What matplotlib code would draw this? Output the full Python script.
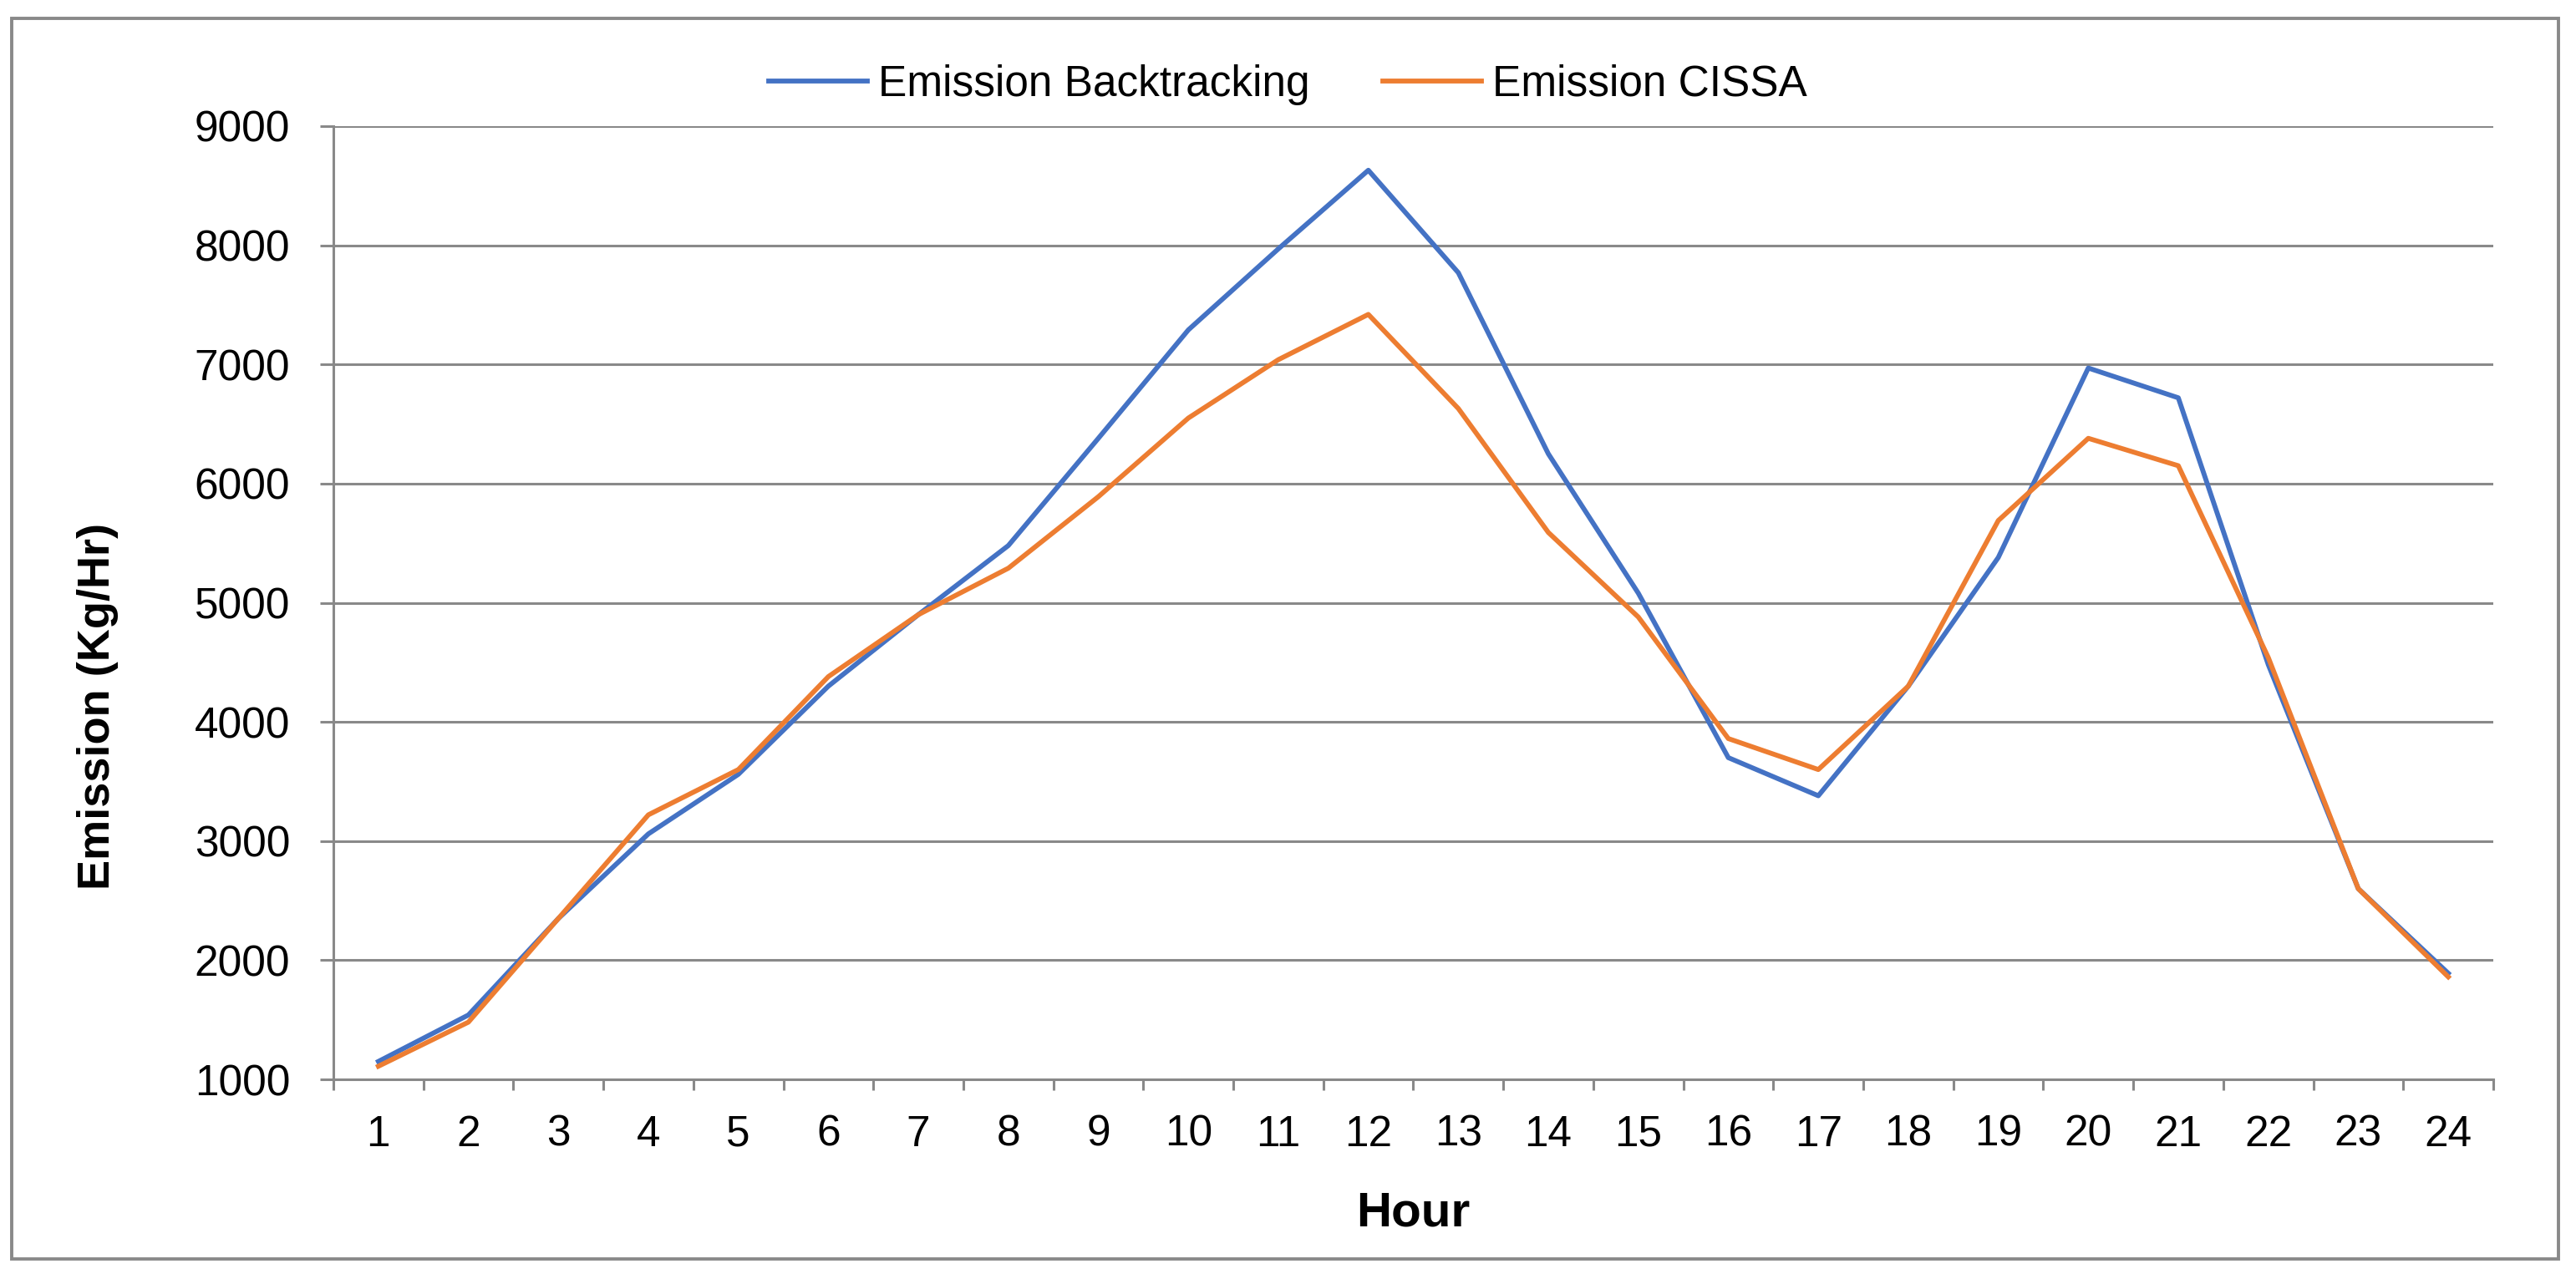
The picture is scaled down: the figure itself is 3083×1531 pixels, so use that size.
import matplotlib
matplotlib.use("Agg")
import matplotlib.pyplot as plt
from matplotlib.patches import Rectangle

hours = list(range(1, 25))
hour_labels = [str(h) for h in hours]
backtracking = [1150, 1540, 2350, 3060, 3560, 4300, 4900, 5480, 6380, 7290, 7970, 8630,
                7770, 6250, 5080, 3700, 3380, 4300, 5380, 6970, 6720, 4480, 2600, 1890]
cissa = [1110, 1480, 2350, 3220, 3600, 4380, 4900, 5290, 5890, 6550, 7040, 7420,
         6630, 5590, 4880, 3860, 3600, 4300, 5690, 6380, 6150, 4540, 2600, 1860]
yticks = [1000, 2000, 3000, 4000, 5000, 6000, 7000, 8000, 9000]
series_names = ["Emission Backtracking", "Emission CISSA"]
series_colors = ["#4472C4", "#ED7D31"]

plt.rcParams['font.family'] = ['Liberation Sans', 'DejaVu Sans']

W, H = 3083, 1531
fig = plt.figure(figsize=(W / 200, H / 200), dpi=200)
grey = "#898989"

L, R, T, B = 399, 2984, 151, 1292
ax = fig.add_axes([L / W, 1 - B / H, (R - L) / W, (B - T) / H])

ax.plot(hours, backtracking, color=series_colors[0], lw=2.1, label=series_names[0],
        solid_joinstyle='round', zorder=3)
ax.plot(hours, cissa, color=series_colors[1], lw=2.1, label=series_names[1],
        solid_joinstyle='round', zorder=4)

ax.set_xlim(0.5, 24.5)
ax.set_ylim(1000, 9000)
ax.set_yticks(yticks)
ax.set_yticklabels([str(v) for v in yticks])
ax.yaxis.grid(True, color=grey, lw=1.1)
ax.set_axisbelow(True)

# x ticks at category boundaries, labels centered
ax.set_xticks([h - 0.5 for h in hours] + [24.5])
ax.set_xticklabels([])
ax.set_xticks(hours, minor=True)
ax.set_xticklabels(hour_labels, minor=True)
ax.tick_params(axis='x', which='major', length=4.7, width=1.1, color=grey, direction='out')
ax.tick_params(axis='x', which='minor', length=0, pad=15, labelsize=18.5)
ax.tick_params(axis='y', length=5.7, width=1.1, color=grey, direction='out', pad=13,
               labelsize=18.5)

for s in ['top', 'right']:
    ax.spines[s].set_visible(False)
for s in ['left', 'bottom']:
    ax.spines[s].set_color(grey)
    ax.spines[s].set_linewidth(1.1)

ax.set_xlabel("Hour", fontsize=21, fontweight='bold')
ax.xaxis.set_label_coords(0.5, (B - 1452) / (B - T))
ax.xaxis.label.set_va('center')
ax.set_ylabel("Emission (Kg/Hr)", fontsize=19.5, fontweight='bold')
ax.yaxis.set_label_coords((117 - L) / (R - L), (B - 845) / (B - T))
ax.yaxis.label.set_va('center')
ax.yaxis.label.set_ha('center')

fig.legend(loc='center', bbox_to_anchor=(0.5, 1 - 101 / H), bbox_transform=fig.transFigure,
           ncol=2, frameon=False, fontsize=18.5, handlelength=2.3, handletextpad=0.25,
           columnspacing=1.7)

fig.patches.append(Rectangle((14 / W, 1 - 1507 / H), (3062 - 14) / W, (1507 - 22) / H,
                             transform=fig.transFigure, fill=False, edgecolor=grey, lw=1.4))

fig.savefig("out.png", dpi=200, facecolor='white')
